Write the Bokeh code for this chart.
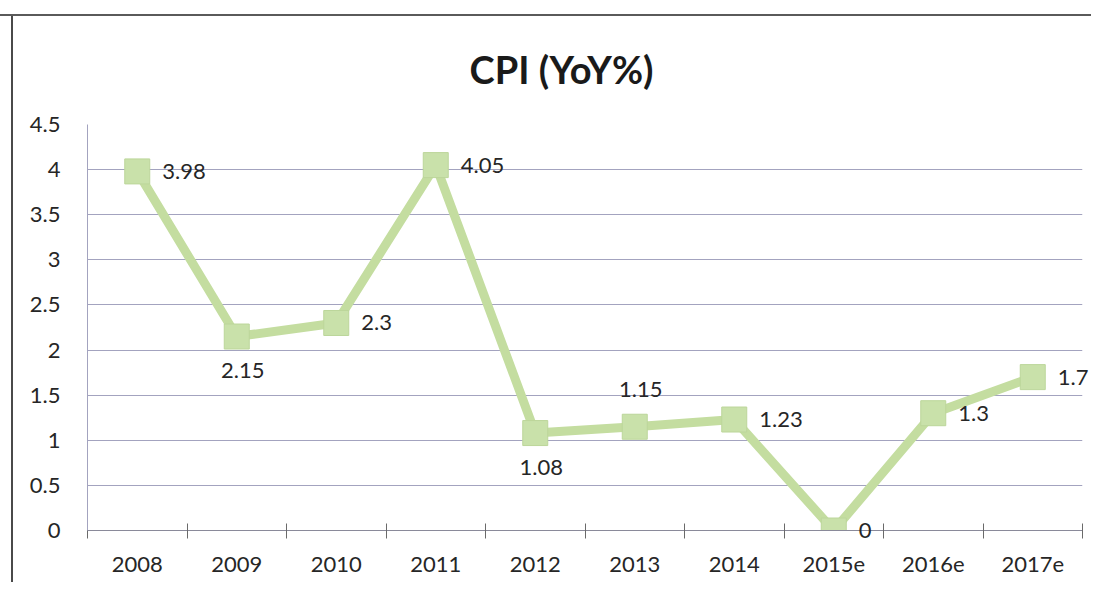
from bokeh.plotting import figure
from bokeh.models import ColumnDataSource, FixedTicker, Title, Range1d
from bokeh.core.properties import value
from bokeh.embed import file_html
from bokeh.resources import INLINE

categories = ["2008", "2009", "2010", "2011", "2012", "2013", "2014", "2015e", "2016e", "2017e"]
cpi = [3.98, 2.15, 2.3, 4.05, 1.08, 1.15, 1.23, 0, 1.3, 1.7]
value_labels = ["3.98", "2.15", "2.3", "4.05", "1.08", "1.15", "1.23", "0", "1.3", "1.7"]
label_side = ["right", "below", "right", "right", "below", "above", "right", "right", "right", "right"]
y_ticks = [0, 0.5, 1, 1.5, 2, 2.5, 3, 3.5, 4, 4.5]

FONT = "Lato"
TXT = "#262626"
GRID = "#a3a3bf"
GREEN_LINE = "#c4dda0"
GREEN_MARK = "#c9e1aa"

xs = list(range(len(categories)))
dx = {"right": 25, "below": 6, "above": 6}
dy = {"right": 0, "below": 34, "above": -37}
align = {"right": "left", "below": "center", "above": "center"}

src = ColumnDataSource(dict(
    x=xs, y=cpi, lab=value_labels,
    xo=[dx[s] for s in label_side],
    yo=[dy[s] for s in label_side],
    al=[align[s] for s in label_side],
))

p = figure(width=1091, height=582, output_backend="svg", toolbar_location=None,
           x_range=Range1d(-0.5, len(categories) - 0.5), y_range=Range1d(0, 4.5),
           min_border_left=87, min_border_right=9, min_border_top=124, min_border_bottom=52)
p.background_fill_color = "white"
p.border_fill_color = None
p.outline_line_color = None
# scanned outer chart-area frame (top and left edges)
p.styles = {
    "background-color": "white",
    "background-image": "linear-gradient(#5a5a5a, #5a5a5a), linear-gradient(#4a4a4a, #4a4a4a)",
    "background-size": "100% 2px, 2px 100%",
    "background-position": "0px 14px, 11px 14px",
    "background-repeat": "no-repeat",
}

title = Title(text="CPI (YoY%)", align="left", vertical_align="top", text_font=FONT,
              text_font_size="38px", text_font_style="bold", text_color="#1a1a1a",
              standoff=62, offset=382)
p.add_layout(title, "above")

# grid
p.xgrid.grid_line_color = None
p.ygrid.grid_line_color = GRID
p.ygrid.grid_line_width = 1
p.ygrid.ticker = FixedTicker(ticks=y_ticks)

# y axis
p.yaxis.ticker = FixedTicker(ticks=y_ticks)
p.yaxis.major_label_overrides = {t: ("%g" % t) for t in y_ticks}
p.yaxis.axis_line_color = GRID
p.yaxis.major_tick_line_color = None
p.yaxis.minor_tick_line_color = None
p.yaxis.major_tick_out = 0
p.yaxis.major_tick_in = 0
p.yaxis.major_label_standoff = 27
p.yaxis.major_label_text_font = FONT
p.yaxis.major_label_text_font_size = "22px"
p.yaxis.major_label_text_color = TXT

# x axis
p.xaxis.ticker = FixedTicker(ticks=xs, minor_ticks=[i - 0.5 for i in range(len(categories) + 1)])
p.xaxis.major_label_overrides = {i: c for i, c in enumerate(categories)}
p.xaxis.axis_line_color = "#8a8a9a"
p.xaxis.major_tick_line_color = None
p.xaxis.major_tick_out = 0
p.xaxis.major_tick_in = 0
p.xaxis.minor_tick_line_color = "#6a6a6a"
p.xaxis.minor_tick_in = 7
p.xaxis.minor_tick_out = 8
p.xaxis.major_label_standoff = 18
p.xaxis.major_label_text_font = FONT
p.xaxis.major_label_text_font_size = "22px"
p.xaxis.major_label_text_color = TXT

p.line("x", "y", source=src, line_color=GREEN_LINE, line_width=9, line_join="round")
p.scatter("x", "y", source=src, marker="square", size=25, fill_color=GREEN_MARK,
          line_color="#bcd69a", line_width=1)

p.text(x="x", y="y", text="lab", source=src, x_offset="xo", y_offset="yo",
       text_align="al", text_baseline="middle", text_font=value(FONT),
       text_font_size="22px", text_color=TXT, level="overlay")

open("out.html", "w").write(file_html(p, INLINE))
